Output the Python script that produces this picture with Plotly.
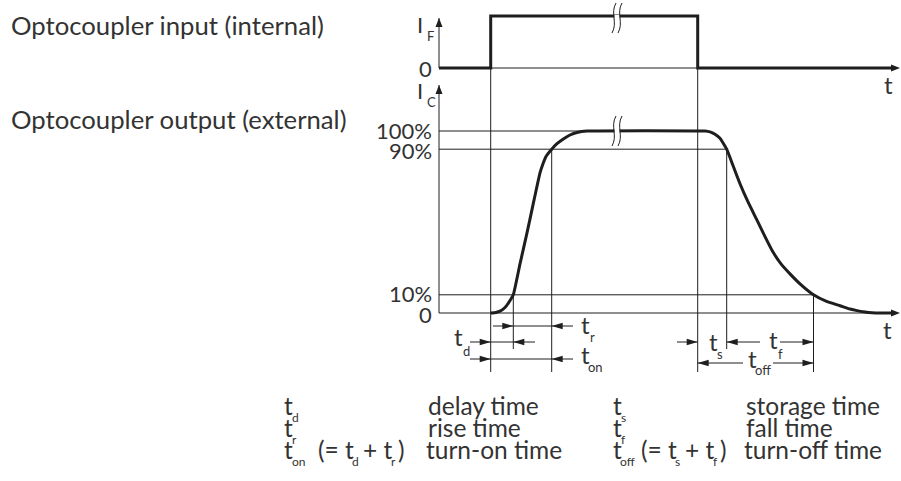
import plotly.graph_objects as go

W, H = 901, 481
FONT = "Lato"
INK = "#1e1e1e"
TXT = "#333333"

# ---------------- data (time in arbitrary units, 0 = vertical axes) ----------------
t_if_on, t_if_off = 51.7, 258.7
if_t = [0, 51.7, 51.7, 258.7, 258.7, 455]
if_v = [0, 0, 1, 1, 0, 0]

ic_t = [51.7, 57, 61, 66, 70, 74.3, 81, 88, 95, 101, 104, 107, 112.7, 118, 124, 131, 138, 148,
        266, 271, 276, 281, 287.7, 294, 301, 309, 318, 326, 334, 342, 351, 361, 374.5,
        387, 401, 411, 418, 426, 433, 441, 456]
ic_v = [0, 0.3, 1, 3, 6, 10, 27, 44, 62, 77, 82, 86, 90, 93, 95.5, 97.8, 99.2, 100,
        100, 99.5, 98.2, 96, 90, 81, 71, 61, 51, 42, 33.5, 27, 21.5, 16, 10,
        6.5, 4, 2.2, 1.3, 0.6, 0.2, 0, 0]

t10r, t90r, t90f, t10f = 74.3, 112.7, 287.7, 374.5
t_plateau_end = 266
t_axis_end = 461
t_break = 178
levels = [10, 90, 100]
level_labels = ["10%", "90%", "100%"]

# ---------------- geometry helpers ----------------
X0 = 439                      # pixel of t = 0
IC_PX0, IC_PPU = 313, 1.82    # pixel of 0 %, pixels per %
IF_PX0, IF_PPU = 68, 52       # pixel of IF = 0, pixels per unit


def px_to_ic(py):
    return (IC_PX0 - py) / IC_PPU


def if_to_ic(v):
    return px_to_ic(IF_PX0 - IF_PPU * v)


ic_range = [px_to_ic(H), px_to_ic(0)]
if_range = [(IF_PX0 - H) / IF_PPU, IF_PX0 / IF_PPU]

fig = go.Figure()
shapes, annotations = [], []


def thin(xs, ys, yaxis="y", width=1, color=INK):
    fig.add_trace(go.Scatter(x=xs, y=ys, yaxis=yaxis, mode="lines",
                             line=dict(color=color, width=width),
                             hoverinfo="skip", showlegend=False))


def head(tx, ty, d, L=11, w=3.2):
    dy = w / IC_PPU
    if d == "r":
        pts = [(tx, ty), (tx - L, ty + dy), (tx - L, ty - dy)]
    elif d == "l":
        pts = [(tx, ty), (tx + L, ty + dy), (tx + L, ty - dy)]
    else:  # up
        pts = [(tx, ty), (tx - w, ty - L / IC_PPU), (tx + w, ty - L / IC_PPU)]
    path = "M " + " L ".join(f"{x},{y}" for x, y in pts) + " Z"
    shapes.append(dict(type="path", path=path, xref="x", yref="y",
                       fillcolor=INK, line=dict(width=0)))


def T(x, y, s, size=24, xa="left", ya="middle"):
    annotations.append(dict(x=x / W, y=1 - y / H, xref="paper", yref="paper",
                            text=s, showarrow=False, xanchor=xa, yanchor=ya,
                            borderpad=0, font=dict(family=FONT, size=size, color=TXT)))


SUB = 13

# ---------------- axes ----------------
top_ic = if_to_ic(1)
thin([0, t_axis_end - 6], [0, 0], "y2")                   # IF time axis
thin([0, 0], [0, 0.96], "y2")                            # IF vertical axis
thin([0, t_axis_end - 6], [0, 0])                        # IC time axis
thin([0, 0], [0, px_to_ic(85)])                          # IC vertical axis
head(t_axis_end, if_to_ic(0), "r", L=9, w=3.5)
head(t_axis_end, 0, "r", L=9, w=3.5)
head(0, if_to_ic(0.96), "u", L=9, w=3.5)
head(0, px_to_ic(85), "u", L=9, w=3.5)

# reference level lines
for lv, tend in zip(levels, [t10f, t90f, t_plateau_end]):
    thin([0, tend], [lv, lv])

# vertical construction lines
low1, low2 = px_to_ic(372), px_to_ic(349)
for tx, ytop, ybot in [(t_if_on, top_ic, low1), (t_if_off, top_ic, low1),
                       (t90r, 90, low1), (t10r, 10, low2),
                       (t90f, 90, low2), (t10f, 10, low1)]:
    thin([tx, tx], [ytop, ybot])

# signals
fig.add_trace(go.Scatter(x=if_t, y=if_v, yaxis="y2", mode="lines",
                         line=dict(color=INK, width=3), hoverinfo="skip", showlegend=False))
fig.add_trace(go.Scatter(x=ic_t, y=ic_v, mode="lines",
                         line=dict(color=INK, width=3, shape="spline", smoothing=0.4),
                         hoverinfo="skip", showlegend=False))

# ---------------- dimension arrows ----------------
r_tr, r_td, r_ton, r_toff = px_to_ic(326), px_to_ic(342), px_to_ic(359), px_to_ic(363)
thin([54, 134], [r_tr, r_tr]);   head(t10r, r_tr, "r"); head(t90r, r_tr, "l")
thin([31, 96], [r_td, r_td]);    head(t_if_on, r_td, "r"); head(t10r, r_td, "l")
thin([31, 134], [r_ton, r_ton]); head(t_if_on, r_ton, "r"); head(t90r, r_ton, "l")
thin([238, t_if_off], [r_td, r_td]); head(t_if_off, r_td, "r")
thin([t90f, 321, None, 341, t10f], [r_td, r_td, None, r_td, r_td])
head(t90f, r_td, "l"); head(t10f, r_td, "r")
thin([t_if_off, 304, None, 334, t10f], [r_toff, r_toff, None, r_toff, r_toff])
head(t_if_off, r_toff, "l"); head(t10f, r_toff, "r")

# ---------------- break marks ----------------
for yc, hh in [(px_to_ic(18), 15 / IC_PPU), (100, 15 / IC_PPU)]:
    shapes.append(dict(type="rect", xref="x", yref="y", x0=t_break - 2.6, x1=t_break + 2.6,
                       y0=yc - 3 / IC_PPU, y1=yc + 3 / IC_PPU,
                       fillcolor="white", line=dict(width=0)))
    for xo in (t_break - 3, t_break + 3):
        p = (f"M {xo+2},{yc+hh} C {xo-4},{yc+hh*0.3} {xo+4},{yc-hh*0.3} {xo-2},{yc-hh}")
        shapes.append(dict(type="path", path=p, xref="x", yref="y",
                           line=dict(color=INK, width=1)))

# ---------------- texts ----------------
T(10, 25, "Optocoupler input (internal)", 25.7)
T(10, 119, "Optocoupler output (external)", 25.7)
T(416, 24, "I", 22); T(426, 36, "F", SUB)
T(433, 68, "0", 22, xa="right")
T(416, 90, "I", 22); T(426, 102, "C", SUB)
for lv, lab in zip(levels + [0], level_labels + ["0"]):
    T(433, IC_PX0 - lv * IC_PPU + (-1 if lv in (100, 10) else 1), lab, 22, xa="right")
T(883, 84, "t")
T(882, 329, "t")

# diagram labels
T(580, 324, "t"); T(589, 337, "r", SUB)
T(453, 336, "t"); T(462, 351, "d", SUB)
T(580, 354, "t"); T(587, 367, "on", SUB)
T(708, 341, "t"); T(716, 353.5, "s", SUB)
T(768, 339, "t"); T(777, 354, "f", SUB)
T(747, 358, "t"); T(754, 370, "off", SUB)

# legend block
rows = [405.5, 427.5, 449.5]
LS = 24.5
LSUB = 12
SD = 11.5
T(283, rows[0], "t", LS); T(291, rows[0] + SD, "d", LSUB); T(427, rows[0], "delay time", LS)
T(283, rows[1], "t", LS); T(291, rows[1] + SD, "r", LSUB); T(427, rows[1], "rise time", LS)
T(283, rows[2], "t", LS); T(291, rows[2] + SD, "on", LSUB)
T(317, rows[2], "(= t", LS); T(351, rows[2] + SD, "d", LSUB)
T(362, rows[2], "+ t", LS); T(390, rows[2] + SD, "r", LSUB)
T(397, rows[2], ")", LS)
T(425, rows[2], "turn-on time", LS)
T(612, rows[0], "t", LS); T(620, rows[0] + SD, "s", LSUB); T(745, rows[0], "storage time", LS)
T(612, rows[1], "t", LS); T(620, rows[1] + SD, "f", LSUB); T(745, rows[1], "fall time", LS)
T(612, rows[2], "t", LS); T(619, rows[2] + SD, "off", LSUB)
T(640, rows[2], "(= t", LS); T(674, rows[2] + SD, "s", LSUB)
T(684, rows[2], "+ t", LS); T(712, rows[2] + SD, "f", LSUB)
T(719, rows[2], ")", LS)
T(743, rows[2], "turn-off time", LS)

fig.update_layout(
    width=W, height=H, margin=dict(l=0, r=0, t=0, b=0),
    paper_bgcolor="white", plot_bgcolor="white",
    xaxis=dict(range=[-X0, W - X0], visible=False, fixedrange=True),
    yaxis=dict(range=ic_range, visible=False, fixedrange=True),
    yaxis2=dict(range=if_range, visible=False, fixedrange=True, overlaying="y"),
    shapes=shapes, annotations=annotations, showlegend=False,
)
fig.write_html("out.html", config={"displayModeBar": False},
               post_script="document.body.style.margin='0px';document.body.style.overflow='hidden';")
